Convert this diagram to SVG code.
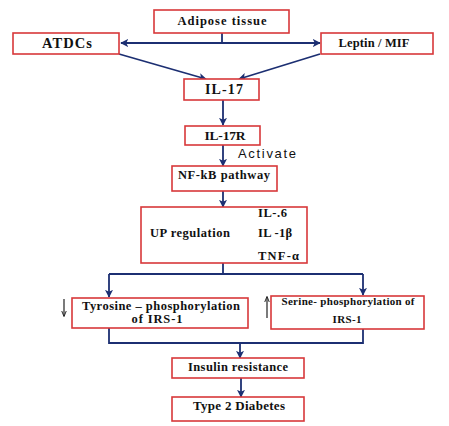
<svg xmlns="http://www.w3.org/2000/svg" width="449" height="426" viewBox="0 0 449 426">
<defs>
<style>
.box{fill:#fff;stroke:#d8383a;stroke-width:1.6}
.t{font-family:"Liberation Serif","Times New Roman",serif;font-weight:bold;font-size:12.5px;fill:#111;text-anchor:middle}
.tl{font-family:"Liberation Serif","Times New Roman",serif;font-weight:bold;font-size:12.5px;fill:#111}
.c{fill:none;stroke:#1c2f72;stroke-width:1.8}
.s{fill:none;stroke:#222;stroke-width:1.2}
</style>
<marker id="ah" viewBox="0 0 10 10" refX="9" refY="5" markerWidth="8" markerHeight="8" markerUnits="userSpaceOnUse" orient="auto">
<path d="M0,0 L10,5 L0,10 L2.5,5 z" fill="#1c2f72"/>
</marker>
<marker id="sh" viewBox="0 0 10 10" refX="9" refY="5" markerWidth="6" markerHeight="6" markerUnits="userSpaceOnUse" orient="auto">
<path d="M0,1 L10,5 L0,9" fill="none" stroke="#222" stroke-width="1.6"/>
</marker>
</defs>
<rect width="449" height="426" fill="#fff"/>
<g id="connectors">
<path class="c" d="M222,33 V43"/>
<path class="c" d="M222,43 H121" marker-end="url(#ah)"/>
<path class="c" d="M222,43 H320" marker-end="url(#ah)"/>
<path class="c" d="M119,54 L206,79" marker-end="url(#ah)"/>
<path class="c" d="M320,54 L239,79" marker-end="url(#ah)"/>
<path class="c" d="M223,100 V125" marker-end="url(#ah)"/>
<path class="c" d="M223,145 V166" marker-end="url(#ah)"/>
<path class="c" d="M223,191 V207" marker-end="url(#ah)"/>
<path class="c" d="M223,263 V274 M109,274 H363"/>
<path class="c" d="M109,274 V297" marker-end="url(#ah)"/>
<path class="c" d="M363,274 V295" marker-end="url(#ah)"/>
<path class="c" d="M109,328 V343 H363 V329"/>
<path class="c" d="M240,343 V358" marker-end="url(#ah)"/>
<path class="c" d="M241,378 V397" marker-end="url(#ah)"/>
<path class="s" d="M64,299 V316" marker-end="url(#sh)"/>
<path class="s" d="M267,318 V297" marker-end="url(#sh)"/>
</g>
<g id="adipose"><rect class="box" x="154" y="10" width="135" height="23"/><text class="t" x="222" y="25" textLength="89">Adipose tissue</text></g>
<g id="atdcs"><rect class="box" x="13" y="33" width="106" height="21"/><text class="t" x="67" y="48" style="font-size:14.5px" textLength="50">ATDCs</text></g>
<g id="leptin"><rect class="box" x="321" y="33" width="112" height="21"/><text class="t" x="374" y="47" textLength="71">Leptin / MIF</text></g>
<g id="il17"><rect class="box" x="184" y="79" width="75" height="21"/><text class="t" x="224" y="94" style="font-size:14px" textLength="38">IL-17</text></g>
<g id="il17r"><rect class="box" x="185" y="126" width="75" height="19"/><text class="t" x="225" y="140" style="font-size:13.5px" textLength="41">IL-17R</text></g>
<text x="238" y="158" font-family="'Liberation Sans',Arial,sans-serif" font-size="13" fill="#111" textLength="58">Activate</text>
<g id="nfkb"><rect class="box" x="172" y="166" width="105" height="25"/><text class="t" x="224" y="179" textLength="92">NF-kB pathway</text></g>
<g id="upreg"><rect class="box" x="141" y="207" width="166" height="56"/>
<text class="tl" x="150" y="237" textLength="80">UP regulation</text>
<text class="tl" x="258" y="217" textLength="29">IL-.6</text>
<text class="tl" x="258" y="237" textLength="34">IL -1β</text>
<text class="tl" x="258" y="260" textLength="41">TNF-α</text></g>
<g id="tyrosine"><rect class="box" x="72" y="298" width="176" height="30"/>
<text class="t" x="161" y="310" textLength="158">Tyrosine – phosphorylation</text>
<text class="t" x="157" y="323" textLength="51">of IRS-1</text></g>
<g id="serine"><rect class="box" x="271" y="296" width="153" height="33"/>
<text class="t" x="348" y="305" style="font-size:11px" textLength="133">Serine- phosphorylation of</text>
<text class="t" x="347" y="323" style="font-size:11px" textLength="29">IRS-1</text></g>
<g id="insulin"><rect class="box" x="172" y="358" width="132" height="20"/><text class="t" x="238" y="371" textLength="100">Insulin resistance</text></g>
<g id="t2d"><rect class="box" x="172" y="397" width="132" height="24"/><text class="t" x="239" y="410" style="font-size:13px" textLength="92">Type 2 Diabetes</text></g>
</svg>
